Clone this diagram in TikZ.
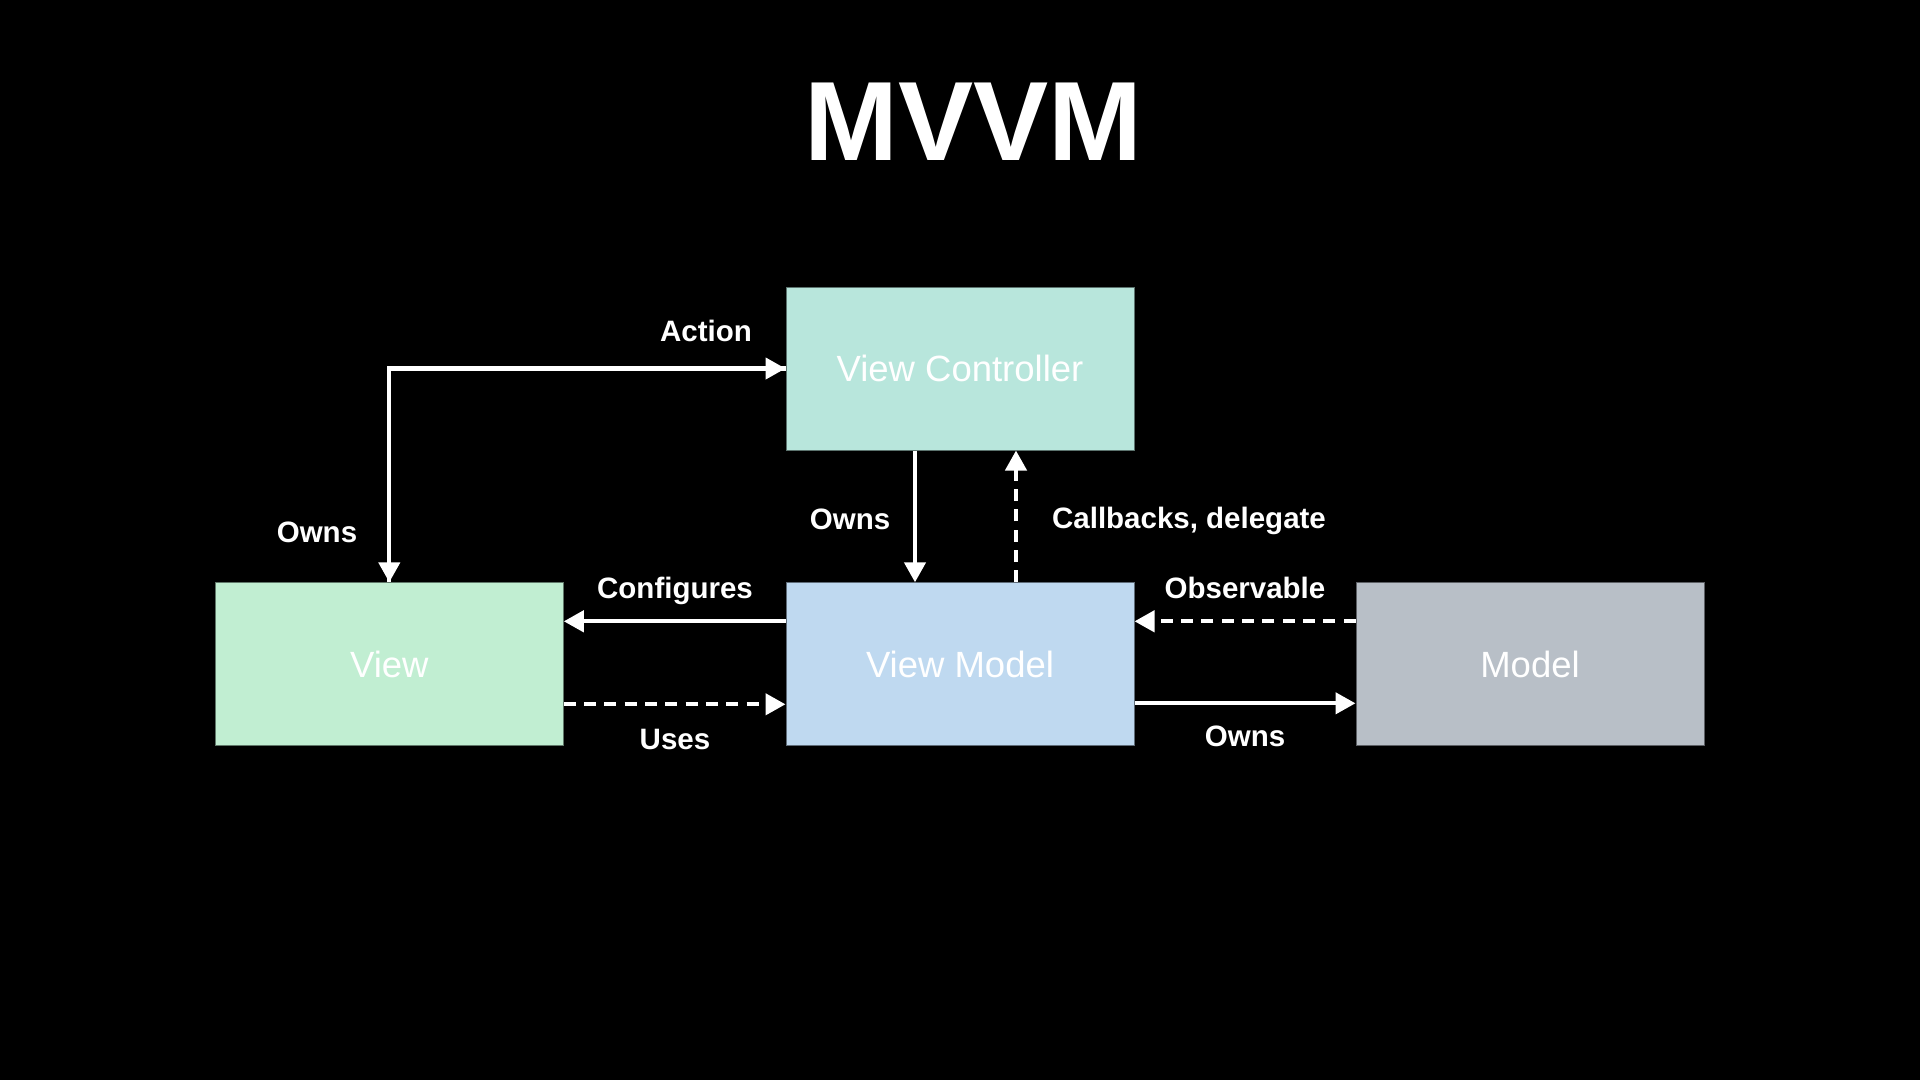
\documentclass[tikz,border=0pt]{standalone}
\usepackage{fontspec}
\setmainfont{Liberation Sans}
\usetikzlibrary{arrows.meta}

\definecolor{vcgreen}{HTML}{B8E6DC}
\definecolor{viewgreen}{HTML}{C1EED2}
\definecolor{vmblue}{HTML}{BFD9F0}
\definecolor{modelgray}{HTML}{B8BFC7}

\begin{document}
\begin{tikzpicture}[x=1pt, y=-1pt, >={Triangle[length=20pt, width=21pt]},
  box/.style={rectangle, fill=#1, draw=#1!50!black, line width=1pt,
    minimum width=348pt, minimum height=163pt, text=white,
    font=\fontsize{36.5}{40}\selectfont},
  conn/.style={white, line width=4.3pt},
  dashconn/.style={conn, dash pattern=on 12pt off 8.3pt},
  lbl/.style={anchor=base, text=white, font=\fontsize{29.5}{32}\selectfont\bfseries}]

  % Background
  \fill[black] (0,0) rectangle (1920,1080);
  \useasboundingbox (0,0) rectangle (1920,1080);

  % Title
  \node[anchor=base, text=white, font=\fontsize{112.7}{120}\selectfont\bfseries] (title) at (973.5,160.7) {MVVM};

  % Boxes
  \node[box=vcgreen]   (vc)    at (960,368.5)   {View Controller};
  \node[box=viewgreen] (view)  at (389.3,664.3) {View};
  \node[box=vmblue]    (vm)    at (960,664.3)   {View Model};
  \node[box=modelgray] (model) at (1530,664.3)  {Model};

  % View <-> View Controller
  \draw[conn, ->] (view.north) |- (vc.west);
  \draw[conn, ->] (vc.west) -| (view.north);
  \node[lbl] (action) at (706,341.7) {Action};
  \node[lbl] (ownsview) at (317,542.7) {Owns};

  % View Controller <-> View Model
  \draw[conn, ->] ([xshift=-45pt]vc.south) -- ([xshift=-45pt]vm.north);
  \draw[dashconn, ->] ([xshift=56pt]vm.north) -- ([xshift=56pt]vc.south);
  \node[lbl] (ownsvm) at (850,529) {Owns};
  \node[lbl] (callbacks) at (1189,528.5) {Callbacks, delegate};

  % View Model <-> View
  \draw[conn, ->] ([yshift=43pt]vm.west) -- ([yshift=43pt]view.east);
  \draw[dashconn, ->] ([yshift=-40pt]view.east) -- ([yshift=-40pt]vm.west);
  \node[lbl] (configures) at (675,598) {Configures};
  \node[lbl] (uses) at (675,749) {Uses};

  % Model <-> View Model
  \draw[dashconn, ->] ([yshift=43pt]model.west) -- ([yshift=43pt]vm.east);
  \draw[conn, ->] ([yshift=-39pt]vm.east) -- ([yshift=-39pt]model.west);
  \node[lbl] (observable) at (1245,598) {Observable};
  \node[lbl] (ownsmodel) at (1245,746.7) {Owns};

\end{tikzpicture}
\end{document}
